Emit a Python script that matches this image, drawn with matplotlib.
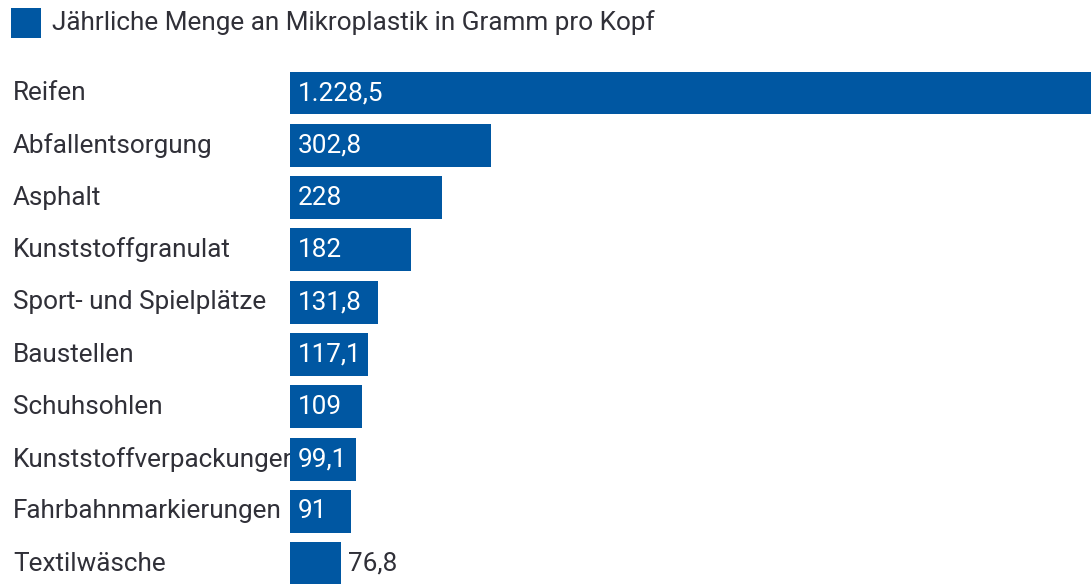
import matplotlib
matplotlib.use("Agg")
import matplotlib.pyplot as plt
import matplotlib.transforms as mtransforms
from matplotlib.patches import Rectangle

categories = ["Reifen", "Abfallentsorgung", "Asphalt", "Kunststoffgranulat",
              "Sport- und Spielplätze", "Baustellen", "Schuhsohlen",
              "Kunststoffverpackungen", "Fahrbahnmarkierungen", "Textilwäsche"]
values = [1228.5, 302.8, 228, 182, 131.8, 117.1, 109, 99.1, 91, 76.8]
series_name = "Jährliche Menge an Mikroplastik in Gramm pro Kopf"

BLUE = "#0057a2"
TEXT = "#303038"
FONT = ["Roboto", "DejaVu Sans"]
FS = 18.8

def fmt(v):
    if float(v).is_integer():
        s = f"{int(v):,}"
    else:
        s = f"{v:,.1f}"
    return s.replace(",", "X").replace(".", ",").replace("X", ".")

W, H = 1091, 584
fig = plt.figure(figsize=(W / 100, H / 100), dpi=100)
fig.patch.set_facecolor("white")

ax_left = 290 / W
top_px = 93 - 26.15
ax = fig.add_axes([ax_left, 0, 1 - ax_left, 1 - top_px / H])
pitch = 52.3
ax.set_ylim((H - 93) / pitch, -26.15 / pitch)
ax.set_xlim(0, 801 / 0.665)
ax.axis("off")

ys = list(range(len(categories)))
ax.barh(ys, values, height=0.82, color=BLUE, edgecolor="none", zorder=2)

fig.canvas.draw()
renderer = fig.canvas.get_renderer()
label_tr = mtransforms.blended_transform_factory(fig.transFigure, ax.transData)
for y, v, c in zip(ys, values, categories):
    ax.text(13 / W, y, c, transform=label_tr, ha="left", va="center",
            fontsize=FS, color=TEXT, family=FONT, zorder=1, clip_on=False)
    t = ax.text(0, y, fmt(v), ha="left", va="center", fontsize=FS, color="white",
                family=FONT, zorder=3)
    bb = t.get_window_extent(renderer)
    bar_px = ax.transData.transform((v, 0))[0] - ax.transData.transform((0, 0))[0]
    if bb.width + 12 <= bar_px:
        t.set_transform(mtransforms.offset_copy(ax.transData, fig=fig, x=8 * 0.72, y=0, units="points"))
    else:
        t.set_color(TEXT)
        t.set_position((v, y))
        t.set_transform(mtransforms.offset_copy(ax.transData, fig=fig, x=7 * 0.72, y=0, units="points"))

# legend
fig.patches.append(Rectangle((11 / W, 1 - 38 / H), 30 / W, 30 / H, transform=fig.transFigure,
                             facecolor=BLUE, edgecolor="none"))
fig.text(52 / W, 1 - 23 / H, series_name, ha="left", va="center", fontsize=FS, color=TEXT,
         family=FONT)

fig.savefig("out.png", dpi=100)
